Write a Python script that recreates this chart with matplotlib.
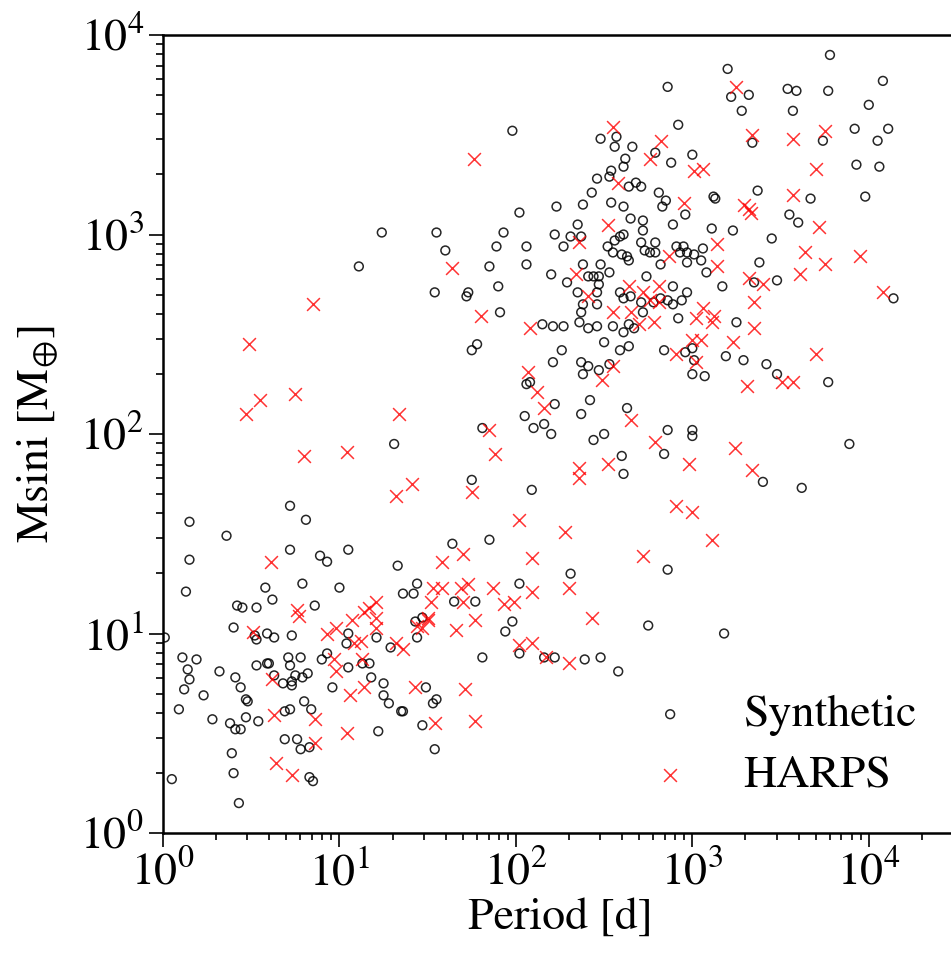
import matplotlib
matplotlib.use("Agg")
import matplotlib.pyplot as plt
import numpy as np

# log10 of period [d] and log10 of Msini [M_earth]
syn_log_period = [
    1.24, 1.11, 1.55, 2.86, 2.92, 1.98, 2.48, 2.57, 2.56, 2.66,
    2.79, 2.62, 2.88, 2.54, 2.61, 2.46, 2.53, 2.68, 2.64, 2.71,
    2.43, 2.81, 2.85, 2.83, 2.54, 2.61, 2.38, 2.23, 2.02, 2.65,
    2.72, 2.72, 2.89, 2.35, 1.93, 2.22, 2.31, 2.37, 2.59, 2.61,
    2.56, 2.71, 2.79, 2.91, 2.95, 2.97, 1.60, 1.89, 2.06, 2.27,
    2.52, 2.55, 2.60, 2.63, 2.64, 2.73, 2.76, 2.79, 2.93, 2.97,
    2.82, 1.85, 2.06, 2.38, 2.48, 2.53, 2.20, 2.41, 2.44, 2.47,
    2.29, 2.47, 2.74, 1.90, 1.54, 1.73, 1.72, 2.89, 2.97,
    2.59, 2.61, 2.65, 2.71, 2.78, 2.82, 2.86, 2.89, 2.94,
    2.35, 2.46, 2.38, 2.46, 2.72, 1.91, 2.37, 2.36, 2.15, 2.21,
    2.27, 2.41, 2.46, 2.55, 2.61, 2.64, 2.67, 2.92, 1.78, 1.75,
    2.26, 2.50, 2.59, 2.64, 2.84, 2.96, 2.21, 2.37, 2.41, 2.38,
    2.47, 2.53, 2.08, 2.06, 2.42, 2.22, 2.37, 2.63, 2.05, 2.10,
    2.16, 2.20, 1.81, 2.44, 2.50, 2.86, 3.00, 3.00, 2.84, 2.60,
    2.61, 1.75, 2.09, 1.64, 1.85, 2.86, 2.31, 2.02, 1.44, 1.65,
    1.77, 1.47, 1.98, 1.94, 2.75, 1.44, 2.02, 1.81, 2.16, 2.22,
    2.39, 2.48, 2.58, 1.49, 1.55, 1.53, 1.47, 1.54, 3.18,
    3.78, 3.20, 3.22, 3.32, 3.54, 3.59, 3.77, 4.08, 3.28, 3.57,
    4.00, 3.34, 3.74, 3.92, 4.11, 4.05, 3.00, 3.93, 4.06, 3.37,
    3.67, 3.98, 2.96, 3.13, 3.12, 3.55, 3.60, 3.11, 3.23, 3.45,
    3.01, 3.06, 3.05, 3.08, 3.38, 3.48, 3.35, 3.17, 4.14, 3.25,
    3.00, 3.01, 3.19, 3.29, 3.42, 3.48, 3.00, 3.07, 3.77, 3.89,
    3.40, 3.62,
    1.31, 0.72, 0.81, 0.15, 0.36, 0.72, 1.05, 0.89, 0.93, 0.15,
    1.33, 0.13, 0.58, 0.79, 1.00, 0.62, 0.42, 0.45, 0.53, 0.86,
    1.36, 1.42, 0.40, 0.53, 0.52, 0.59, 0.63, 0.73, 0.01, 1.05,
    1.04, 1.21, 1.29, 1.43, 0.11, 0.19, 0.14, 0.15, 0.12, 0.23,
    0.32, 0.41, 0.44, 0.47, 0.48, 0.53, 0.59, 0.60, 0.63, 0.71,
    0.72, 0.78, 0.68, 0.73, 0.73, 0.75, 0.79, 0.82, 0.90, 0.93,
    1.05, 1.13, 1.17, 1.18, 0.96, 1.25, 1.25, 1.28, 1.35, 1.36,
    0.09, 0.28, 0.38, 0.41, 0.44, 0.47, 0.54, 0.69, 0.72, 0.80,
    0.84, 0.83, 0.69, 0.76, 0.78, 1.22, 0.39, 0.40, 0.83, 0.85,
    0.05, 0.43,
]
syn_log_mass = [
    3.01, 2.84, 3.01, 3.74, 3.55, 3.52, 3.48, 3.49, 3.44, 3.44,
    3.41, 3.38, 3.36, 3.32, 3.34, 3.28, 3.29, 3.26, 3.24, 3.24,
    3.21, 3.21, 3.17, 3.14, 3.16, 3.14, 3.15, 3.14, 3.11, 3.08,
    3.07, 3.02, 3.05, 3.05, 3.01, 3.00, 2.99, 2.99, 2.99, 3.00,
    2.97, 2.96, 2.96, 2.94, 2.94, 2.91, 2.92, 2.94, 2.94, 2.94,
    2.94, 2.91, 2.90, 2.89, 2.87, 2.92, 2.91, 2.91, 2.91, 2.86,
    2.85, 2.84, 2.85, 2.85, 2.85, 2.81, 2.80, 2.79, 2.79, 2.79,
    2.76, 2.75, 2.79, 2.74, 2.71, 2.71, 2.69, 2.74, 2.71,
    2.71, 2.68, 2.69, 2.66, 2.66, 2.68, 2.67, 2.65, 2.67,
    2.71, 2.71, 2.65, 2.65, 2.61, 2.61, 2.61, 2.56, 2.55, 2.54,
    2.54, 2.53, 2.54, 2.54, 2.51, 2.55, 2.53, 2.58, 2.45, 2.42,
    2.42, 2.46, 2.42, 2.44, 2.42, 2.41, 2.36, 2.36, 2.34, 2.30,
    2.32, 2.35, 2.26, 2.25, 2.17, 2.15, 2.10, 2.13, 2.09, 2.03,
    2.05, 2.00, 2.03, 1.97, 2.00, 2.02, 2.02, 1.99, 1.90, 1.89,
    1.80, 1.77, 1.72, 1.45, 1.47, 1.32, 1.30, 1.25, 1.25, 1.16,
    1.16, 1.08, 1.06, 1.01, 1.04, 0.98, 0.90, 0.88, 0.88, 0.88,
    0.87, 0.88, 0.81, 0.73, 0.67, 0.65, 0.54, 0.42, 1.00,
    3.90, 3.83, 3.69, 3.70, 3.73, 3.72, 3.72, 3.77, 3.62, 3.62,
    3.65, 3.46, 3.47, 3.53, 3.53, 3.47, 3.40, 3.35, 3.34, 3.22,
    3.18, 3.19, 3.10, 3.18, 3.19, 3.10, 3.06, 3.03, 3.02, 2.98,
    2.90, 2.93, 2.87, 2.81, 2.86, 2.77, 2.76, 2.74, 2.68, 2.56,
    2.43, 2.37, 2.39, 2.37, 2.35, 2.30, 2.30, 2.29, 2.26, 1.95,
    1.76, 1.73,
    1.95, 1.64, 1.57, 1.56, 1.49, 1.42, 1.42, 1.39, 1.36, 1.37,
    1.34, 1.21, 1.23, 1.25, 1.23, 1.17, 1.14, 1.13, 1.13, 1.14,
    1.20, 1.20, 1.03, 0.97, 0.99, 1.00, 0.98, 0.99, 0.98, 1.00,
    0.95, 0.98, 0.93, 1.06, 0.88, 0.87, 0.82, 0.77, 0.72, 0.69,
    0.81, 0.78, 0.73, 0.67, 0.66, 0.84, 0.85, 0.85, 0.79, 0.88,
    0.84, 0.88, 0.75, 0.74, 0.76, 0.79, 0.78, 0.80, 0.87, 0.90,
    0.83, 0.85, 0.85, 0.78, 0.73, 0.75, 0.69, 0.65, 0.61, 0.61,
    0.62, 0.57, 0.55, 0.52, 0.52, 0.58, 0.56, 0.61, 0.62, 0.66,
    0.62, 0.43, 0.47, 0.47, 0.42, 0.51, 0.40, 0.30, 0.28, 0.26,
    0.27, 0.15,
]

harps_log_period = [
    2.55, 2.82, 1.76, 2.76, 2.58, 2.95, 2.52, 2.36, 2.87, 1.64,
    2.34, 2.64, 2.72, 2.81, 2.41, 2.76, 2.81, 2.55, 2.65, 1.80,
    2.08, 2.70, 2.78, 2.91, 2.55, 2.49, 2.07, 2.12, 2.16, 2.65,
    1.85, 2.79, 1.88, 2.52, 2.36, 2.36, 2.98, 1.75, 2.91, 3.00,
    2.02, 2.28, 1.70, 2.09, 2.72, 1.58, 1.53, 1.58, 1.69, 1.73,
    1.87, 2.09, 2.30, 1.52, 1.70, 1.93, 1.99, 1.50, 1.47, 1.77,
    1.66, 2.43, 2.02, 2.09, 2.17, 2.30, 1.71, 1.54, 1.77, 0.61,
    0.76, 0.77, 1.21, 1.17, 1.14, 1.21, 1.07, 1.21, 0.98, 0.93,
    0.51, 1.08, 1.12, 1.13, 1.32, 1.36, 1.44, 1.50, 0.62, 0.97,
    0.98, 1.14, 1.06, 1.43, 0.63, 0.86, 0.86, 1.04, 0.64, 0.73,
    0.85, 0.49, 0.55, 0.47, 0.75, 1.34, 0.80, 1.04, 1.41, 1.32,
    3.25, 3.34, 3.57, 3.75, 3.01, 3.06, 3.70, 3.57, 3.29, 3.32,
    3.33, 3.72, 3.14, 3.14, 3.64, 3.75, 3.95, 3.61, 3.32, 3.40,
    4.08, 3.35, 3.06, 3.02, 3.12, 3.11, 3.35, 3.00, 3.05, 3.23,
    3.02, 3.70, 3.31, 3.51, 3.57, 3.24, 3.34, 3.11,
]
harps_log_mass = [
    3.54, 3.47, 3.38, 3.38, 3.26, 3.16, 3.05, 2.96, 2.89, 2.83,
    2.80, 2.74, 2.71, 2.74, 2.69, 2.67, 2.66, 2.61, 2.61, 2.59,
    2.53, 2.55, 2.56, 2.40, 2.34, 2.27, 2.31, 2.21, 2.13, 2.07,
    2.02, 1.96, 1.90, 1.85, 1.83, 1.78, 1.85, 1.71, 1.64, 1.61,
    1.57, 1.51, 1.40, 1.38, 1.39, 1.36, 1.23, 1.23, 1.23, 1.25,
    1.23, 1.21, 1.23, 1.16, 1.16, 1.15, 1.16, 1.08, 1.03, 1.07,
    1.02, 1.08, 0.94, 0.95, 0.88, 0.85, 0.72, 0.55, 0.56, 1.36,
    1.12, 1.09, 1.16, 1.13, 1.11, 1.08, 1.07, 1.03, 1.03, 1.00,
    1.01, 0.95, 0.96, 0.87, 0.95, 0.92, 1.04, 1.07, 0.77, 0.87,
    0.81, 0.73, 0.69, 0.73, 0.59, 0.57, 0.45, 0.50, 0.35, 0.29,
    2.65, 2.45, 2.17, 2.10, 2.20, 2.10, 1.89, 1.91, 1.75, 1.69,
    3.74, 3.50, 3.48, 3.52, 3.32, 3.33, 3.33, 3.20, 3.15, 3.13,
    3.11, 3.04, 2.95, 2.84, 2.91, 2.85, 2.89, 2.80, 2.78, 2.75,
    2.71, 2.66, 2.63, 2.58, 2.59, 2.56, 2.53, 2.47, 2.47, 2.46,
    2.36, 2.40, 2.24, 2.26, 2.26, 1.93, 1.82, 1.47,
]

plt.rcParams['font.family'] = ['STIXGeneral', 'DejaVu Serif']
plt.rcParams['mathtext.fontset'] = 'stix'

fig = plt.figure(figsize=(9.51, 9.55), dpi=100)
# the right edge of the axes sits just past the edge of the picture
ax = fig.add_axes([163 / 951, 122 / 955, 794 / 951, 798 / 955])

ax.scatter(10 ** np.array(syn_log_period), 10 ** np.array(syn_log_mass),
           s=40, facecolors='none', edgecolors='black', linewidths=1.1,
           alpha=0.85, label='Synthetic', zorder=2)
ax.scatter(10 ** np.array(harps_log_period), 10 ** np.array(harps_log_mass),
           s=85, marker='x', color='red', linewidths=1.1, alpha=0.8,
           label='HARPS', zorder=3)

ax.set_xscale('log')
ax.set_yscale('log')
ax.set_xlim(1, 10 ** 4.5)
ax.set_ylim(1, 1e4)

ax.set_xlabel('Period [d]', fontsize=33, labelpad=2)
ax.set_ylabel(r'Msini [M$_{\oplus}$]', fontsize=33, labelpad=15)

ax.tick_params(which='both', direction='out', labelsize=33, width=1.2)
ax.tick_params(which='major', length=10)
ax.tick_params(which='minor', length=5)
ax.tick_params(top=False, right=False)
for sp in ax.spines.values():
    sp.set_linewidth(1.8)

ax.legend(loc='lower left', bbox_to_anchor=(606 / 951, 140 / 955),
          bbox_transform=fig.transFigure, frameon=False, fontsize=33,
          scatterpoints=1, handletextpad=0.6, labelspacing=0.4,
          borderaxespad=0)

fig.savefig('out.png', dpi=100)
